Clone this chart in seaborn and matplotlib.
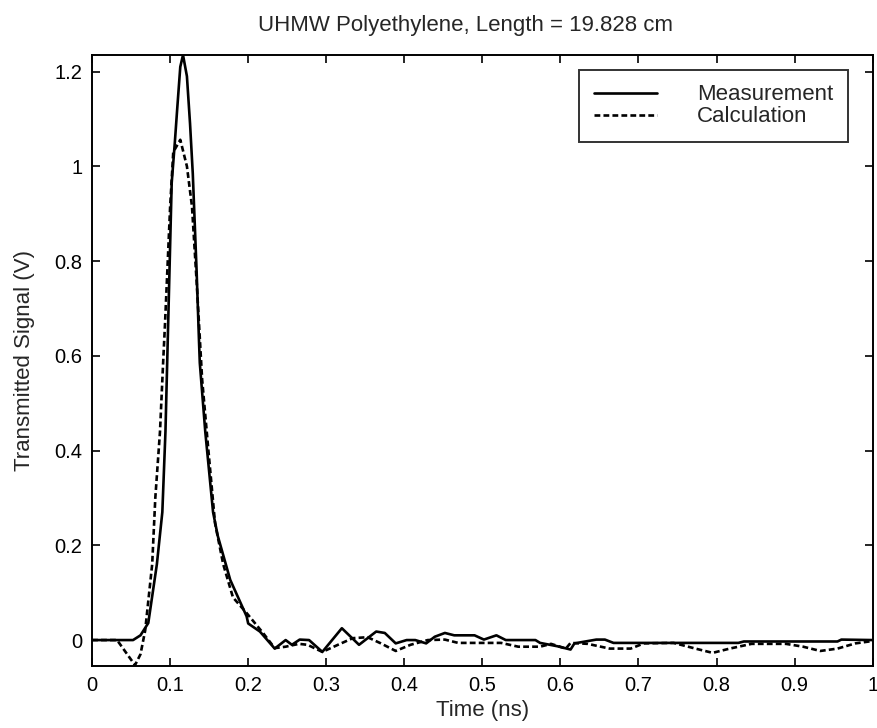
import matplotlib
matplotlib.use("Agg")
import matplotlib.pyplot as plt
import seaborn as sns
import pandas as pd
from matplotlib.lines import Line2D

# Measurement (solid)
meas_t = [0.0, 0.0525, 0.062, 0.072, 0.083, 0.090, 0.094, 0.102, 0.106, 0.109, 0.113, 0.1165,
          0.1215, 0.1255, 0.129, 0.134, 0.137, 0.138, 0.145, 0.155, 0.161, 0.177, 0.198, 0.2,
          0.215, 0.234, 0.248, 0.256, 0.266, 0.278, 0.295, 0.32, 0.342, 0.364, 0.375, 0.389,
          0.403, 0.414, 0.428, 0.439, 0.452, 0.464, 0.49, 0.502, 0.518, 0.53, 0.568, 0.574,
          0.596, 0.613, 0.618, 0.646, 0.657, 0.668, 0.828, 0.835, 0.955, 0.96, 1.0]
meas_v = [0.0, 0.0, 0.01, 0.036, 0.16, 0.27, 0.44, 0.965, 1.05, 1.12, 1.21, 1.235,
          1.19, 1.09, 0.985, 0.775, 0.63, 0.585, 0.44, 0.27, 0.22, 0.127, 0.05, 0.035,
          0.018, -0.018, 0.0, -0.01, 0.001, 0.0, -0.025, 0.025, -0.01, 0.018, 0.015, -0.007,
          0.0, 0.0, -0.007, 0.007, 0.015, 0.01, 0.01, 0.001, 0.01, 0.0, 0.0, -0.006,
          -0.013, -0.02, -0.007, 0.001, 0.001, -0.006, -0.006, -0.003, -0.003, 0.001, 0.0]

# Calculation (dashed)
calc_t = [0.0, 0.032, 0.045, 0.055, 0.062, 0.068, 0.077, 0.081, 0.087, 0.091, 0.0935, 0.1,
          0.104, 0.113, 0.1215, 0.128, 0.134, 0.141, 0.1485, 0.1575, 0.168, 0.1805, 0.198,
          0.219, 0.234, 0.248, 0.265, 0.276, 0.295, 0.315, 0.334, 0.353, 0.37, 0.389, 0.408,
          0.43, 0.452, 0.469, 0.524, 0.546, 0.574, 0.588, 0.607, 0.613, 0.635, 0.663, 0.69,
          0.707, 0.745, 0.773, 0.795, 0.817, 0.845, 0.889, 0.911, 0.933, 0.955, 0.978, 1.0]
calc_v = [0.0, 0.0, -0.03, -0.053, -0.03, 0.02, 0.16, 0.30, 0.44, 0.585, 0.67, 0.915,
          1.03, 1.056, 1.0, 0.915, 0.755, 0.55, 0.41, 0.247, 0.16, 0.09, 0.057,
          0.015, -0.017, -0.014, -0.008, -0.01, -0.025, -0.01, 0.004, 0.006, -0.007, -0.023, -0.01,
          0.0, 0.001, -0.006, -0.006, -0.014, -0.014, -0.008, -0.018, -0.006, -0.008, -0.018, -0.018,
          -0.007, -0.006, -0.018, -0.027, -0.018, -0.008, -0.008, -0.014, -0.023, -0.018, -0.007, -0.002]

title = "UHMW Polyethylene, Length = 19.828 cm"
x_label = "Time (ns)"
y_label = "Transmitted Signal (V)"
x_ticks = [0, 0.1, 0.2, 0.3, 0.4, 0.5, 0.6, 0.7, 0.8, 0.9, 1]
x_tick_labels = ["0", "0.1", "0.2", "0.3", "0.4", "0.5", "0.6", "0.7", "0.8", "0.9", "1"]
y_ticks = [0, 0.2, 0.4, 0.6, 0.8, 1.0, 1.2]
y_tick_labels = ["0", "0.2", "0.4", "0.6", "0.8", "1", "1.2"]

sns.set_style("ticks")
plt.rcParams['font.family'] = ['Liberation Sans', 'DejaVu Sans']

df = pd.concat([
    pd.DataFrame({"t": meas_t, "v": meas_v, "series": "Measurement"}),
    pd.DataFrame({"t": calc_t, "v": calc_v, "series": "Calculation"}),
])

fig = plt.figure(figsize=(8.77, 7.28), dpi=100)
ax = fig.add_axes([0.105, 0.085, 0.89, 0.8395])

sns.lineplot(data=df, x="t", y="v", hue="series", style="series",
             palette={"Measurement": "black", "Calculation": "black"},
             dashes={"Measurement": "", "Calculation": (2.2, 1.2)},
             sort=False, estimator=None, linewidth=1.9, ax=ax, legend=False)

ax.set_xlim(0, 1)
ax.set_ylim(-0.055, 1.235)
ax.set_xticks(x_ticks)
ax.set_xticklabels(x_tick_labels)
ax.set_yticks(y_ticks)
ax.set_yticklabels(y_tick_labels)
ax.tick_params(direction="in", top=True, right=True, length=6, width=1.2,
               labelsize=14.5, colors="black", pad=7)
for s in ax.spines.values():
    s.set_visible(True)
    s.set_linewidth(1.4)
    s.set_color("black")
ax.set_xlabel(x_label, fontsize=16, labelpad=4)
ax.set_ylabel(y_label, fontsize=16, labelpad=14)
ax.set_title(title, fontsize=16, pad=17, x=0.478)

handles = [Line2D([0], [0], color="black", lw=1.9),
           Line2D([0], [0], color="black", lw=1.9, dashes=(2.2, 1.2))]
leg = ax.legend(handles, ["Measurement", "Calculation"], loc="upper right",
                bbox_to_anchor=(0.968, 0.9755), fontsize=16, frameon=True,
                fancybox=False, edgecolor="black", handlelength=2.85,
                handletextpad=1.8, borderpad=0.65, labelspacing=0.05,
                borderaxespad=0)
leg.get_frame().set_linewidth(1.4)

fig.savefig("out.png", dpi=100, facecolor="white")
